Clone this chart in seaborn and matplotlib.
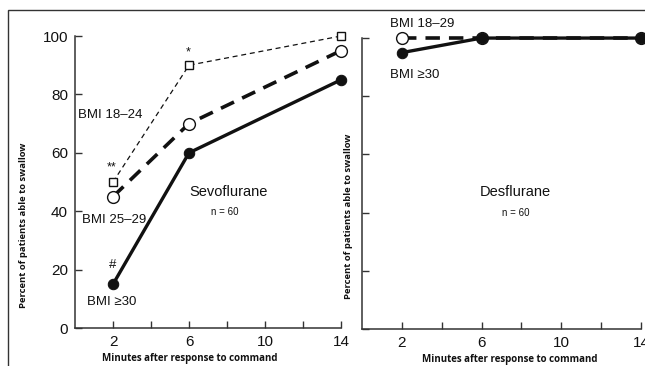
import matplotlib
matplotlib.use("Agg")
import matplotlib.pyplot as plt
import seaborn as sns
from matplotlib.patches import Rectangle

sns.set_style("ticks")
plt.rcParams['font.family'] = ['Liberation Sans', 'DejaVu Sans']

# data
minutes = [2, 6, 14]
sevo_bmi_18_24 = [50, 90, 100]
sevo_bmi_25_29 = [45, 70, 95]
sevo_bmi_30 = [15, 60, 85]
des_bmi_18_29 = [100, 100, 100]
des_bmi_30 = [95, 100, 100]

x_ticks = [2, 4, 6, 8, 10, 12, 14]
x_ticklabels = ['2', '', '6', '', '10', '', '14']
y_ticks = [0, 20, 40, 60, 80, 100]
y_ticklabels = ['0', '20', '40', '60', '80', '100']

ink = '#111111'
xlab = 'Minutes after response to command'
ylab = 'Percent of patients able to swallow'

fig = plt.figure(figsize=(6.45, 3.66), dpi=100)
ax1 = fig.add_axes([0.1163, 0.1038, 0.4124, 0.7978])
ax2 = fig.add_axes([0.5612, 0.101, 0.4326, 0.795])

# outer frame of the original figure
fig.add_artist(Rectangle((8 / 645, -0.1), 1.0, 1.0727, transform=fig.transFigure,
                         fill=False, lw=1, ec='#333333'))

# --- Sevoflurane
sns.lineplot(x=minutes, y=sevo_bmi_18_24, ax=ax1, color=ink, lw=0.9, linestyle=(0, (4, 3)),
             marker='s', markersize=6, markerfacecolor='white', markeredgecolor=ink,
             markeredgewidth=1, clip_on=False)
sns.lineplot(x=minutes, y=sevo_bmi_25_29, ax=ax1, color=ink, lw=2.6, linestyle=(0, (4, 2.5)),
             marker='o', markersize=8.5, markerfacecolor='white', markeredgecolor=ink,
             markeredgewidth=1, clip_on=False)
sns.lineplot(x=minutes, y=sevo_bmi_30, ax=ax1, color=ink, lw=2.4, linestyle='-',
             marker='o', markersize=7.5, markerfacecolor=ink, markeredgecolor=ink,
             clip_on=False)

ax1.text(0.16, 73, 'BMI 18–24', fontsize=9.5, ha='left', va='center', color=ink)
ax1.text(0.37, 37, 'BMI 25–29', fontsize=9.5, ha='left', va='center', color=ink)
ax1.text(0.63, 9, 'BMI ≥30', fontsize=9.5, ha='left', va='center', color=ink)
ax1.text(1.95, 55, '**', fontsize=9, ha='center', va='center', color=ink)
ax1.text(5.95, 94.5, '*', fontsize=9, ha='center', va='center', color=ink)
ax1.text(2.0, 21.5, '#', fontsize=9.5, ha='center', va='center', color=ink)
ax1.text(6.0, 46.6, 'Sevoflurane', fontsize=10.5, ha='left', va='center', color=ink)
ax1.text(7.15, 39.7, 'n = 60', fontsize=7, ha='left', va='center', color=ink)

# --- Desflurane
sns.lineplot(x=minutes, y=des_bmi_18_29, ax=ax2, color=ink, lw=2.6, linestyle=(0, (4, 2.5)),
             marker='o', markersize=8.5, markerfacecolor='white', markeredgecolor=ink,
             markeredgewidth=1, clip_on=False)
sns.lineplot(x=minutes, y=des_bmi_30, ax=ax2, color=ink, lw=2.4, linestyle='-',
             marker='o', markersize=7.5, markerfacecolor=ink, markeredgecolor=ink,
             clip_on=False)

ax2.text(1.4, 104.8, 'BMI 18–29', fontsize=9.5, ha='left', va='center', color=ink)
ax2.text(1.4, 87.3, 'BMI ≥30', fontsize=9.5, ha='left', va='center', color=ink)
ax2.text(5.9, 47, 'Desflurane', fontsize=10.5, ha='left', va='center', color=ink)
ax2.text(7.05, 40, 'n = 60', fontsize=7, ha='left', va='center', color=ink)

for ax in (ax1, ax2):
    ax.set_xlim(0, 14)
    ax.set_ylim(0, 100)
    ax.set_xticks(x_ticks)
    ax.set_xticklabels(x_ticklabels)
    ax.set_yticks(y_ticks)
    sns.despine(ax=ax)
    for s in ('left', 'bottom'):
        ax.spines[s].set_color('#333333')
        ax.spines[s].set_linewidth(1.1)
    ax.tick_params(direction='in', length=5, width=1, color='#333333',
                   labelsize=11, labelcolor=ink, pad=5)
    ax.set_xlabel(xlab, fontsize=7, fontweight='bold', family='Open Sans', color=ink)
    ax.set_ylabel(ylab, fontsize=6.8, fontweight='bold', family='Open Sans', color=ink)

ax1.set_yticklabels(y_ticklabels)
ax2.set_yticklabels([])
ax1.xaxis.set_label_coords(0.432, -0.087)
ax2.xaxis.set_label_coords(0.53, -0.085)
ax1.yaxis.set_label_coords(-0.175, 0.353)
ax2.yaxis.set_label_coords(-0.032, 0.388)

fig.savefig('out.png', dpi=100)
